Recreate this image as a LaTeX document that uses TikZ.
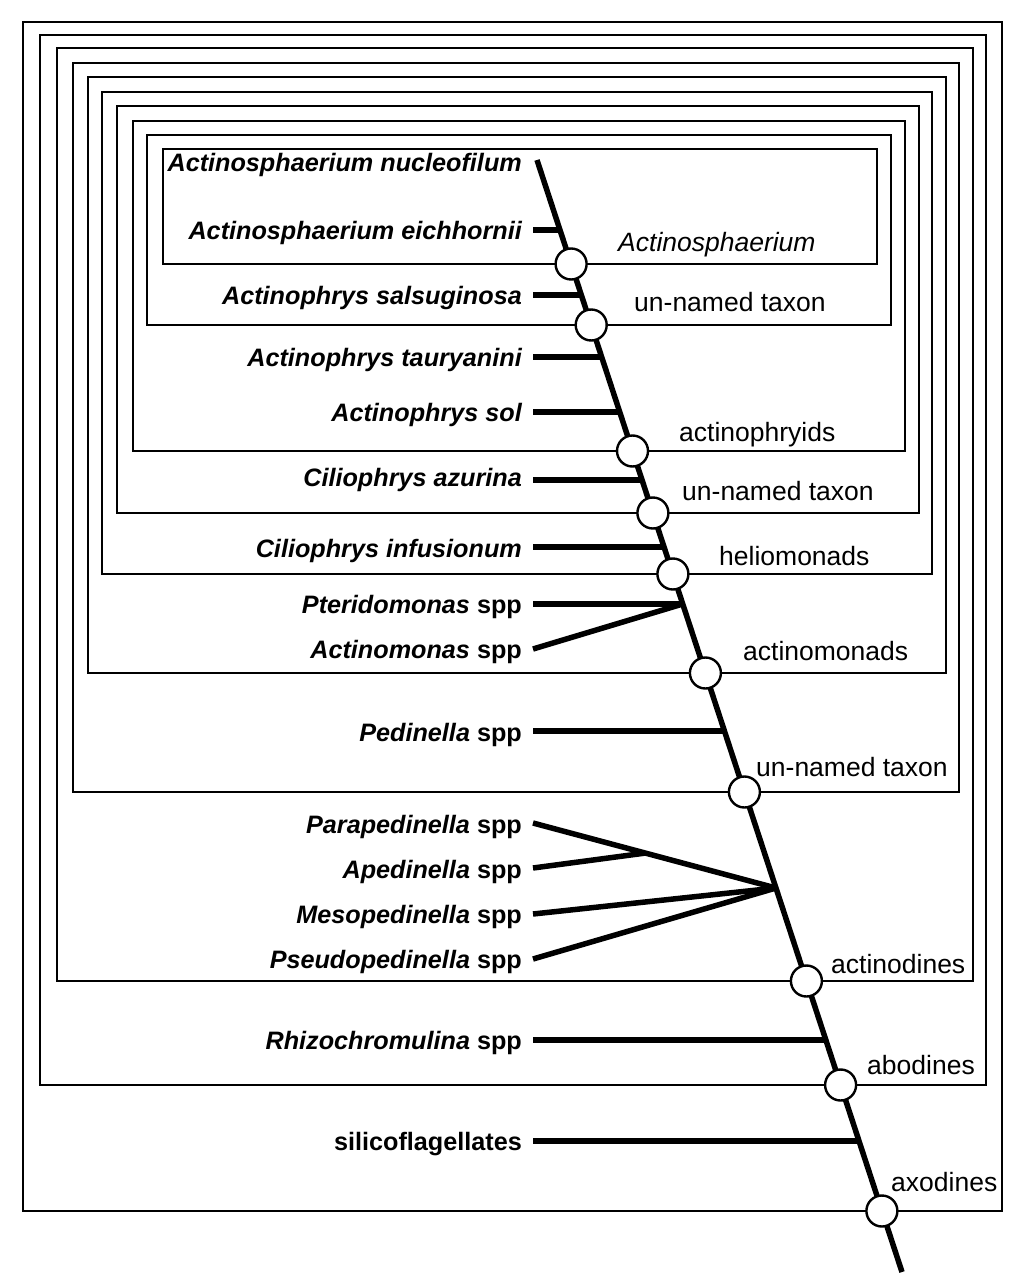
\documentclass[tikz,border=0pt]{standalone}
\usepackage{fontspec}
\setmainfont{Liberation Sans}
\begin{document}
\begin{tikzpicture}[x=1pt,y=-1pt,
  boxline/.style={line width=2.6pt},
  trunkline/.style={line width=5.5pt},
  branchline/.style={line width=5.5pt},
  cladenode/.style={circle, draw, line width=2.4pt, fill=white, minimum size=31pt, inner sep=0pt},
  taxon/.style={anchor=base east, inner sep=0pt, font=\fontsize{25.2}{30}\selectfont\bfseries},
  cladelabel/.style={anchor=base west, inner sep=0pt, font=\fontsize{26.5}{31}\selectfont}]
\useasboundingbox (0,0) rectangle (1029,1276);

% nested boxes
\draw[boxline] (23,22) rectangle (1002,1211);
\draw[boxline] (40,35) rectangle (986,1085);
\draw[boxline] (57,48) rectangle (973,981);
\draw[boxline] (73,63) rectangle (959,792);
\draw[boxline] (88,77) rectangle (946,673);
\draw[boxline] (102,92) rectangle (932,574);
\draw[boxline] (117,106) rectangle (919,513);
\draw[boxline] (133,121) rectangle (905,451);
\draw[boxline] (147,135) rectangle (891,325);
\draw[boxline] (163,149) rectangle (877,264);

% trunk
\coordinate (top) at (537,160);
\coordinate (bottom) at (902,1272);
\draw[trunkline] (top) -- (bottom);

% junctions on trunk
\coordinate (jeic) at (560.0,230);
\coordinate (jsal) at (581.3,295);
\coordinate (jtau) at (601.7,357);
\coordinate (jsol) at (619.7,412);
\coordinate (jazu) at (642.0,480);
\coordinate (jinf) at (664.0,547);
\coordinate (jpte) at (682.7,604);
\coordinate (jped) at (724.4,731);
\coordinate (jpp) at (775.9,888);
\coordinate (japed) at (645,853.1);
\coordinate (jrhi) at (825.8,1040);
\coordinate (jsil) at (859.0,1141);

% branch starts
\coordinate (seic) at (533,230);
\coordinate (ssal) at (533,295);
\coordinate (stau) at (533,357);
\coordinate (ssol) at (533,412);
\coordinate (sazu) at (533,480);
\coordinate (sinf) at (533,547);
\coordinate (spte) at (533,604);
\coordinate (sact) at (533,649);
\coordinate (sped) at (533,731);
\coordinate (spar) at (533,823);
\coordinate (sape) at (533,868);
\coordinate (smes) at (533,914);
\coordinate (spse) at (533,959);
\coordinate (srhi) at (533,1040);
\coordinate (ssil) at (533,1141);

\draw[branchline] (seic) -- (jeic);
\draw[branchline] (ssal) -- (jsal);
\draw[branchline] (stau) -- (jtau);
\draw[branchline] (ssol) -- (jsol);
\draw[branchline] (sazu) -- (jazu);
\draw[branchline] (sinf) -- (jinf);
\draw[branchline] (spte) -- (jpte);
\draw[branchline] (sact) -- (jpte);
\draw[branchline] (sped) -- (jped);
\draw[branchline] (spar) -- (jpp);
\draw[branchline] (sape) -- (japed);
\draw[branchline] (smes) -- (jpp);
\draw[branchline] (spse) -- (jpp);
\draw[branchline] (srhi) -- (jrhi);
\draw[branchline] (ssil) -- (jsil);

% taxa
\node[taxon] (tnuc) at (522,172) {\itshape Actinosphaerium nucleofilum};
\node[taxon] (teic) at (522,239) {\itshape Actinosphaerium eichhornii};
\node[taxon] (tsal) at (522,304) {\itshape Actinophrys salsuginosa};
\node[taxon] (ttau) at (522,366) {\itshape Actinophrys tauryanini};
\node[taxon] (tsol) at (522,421) {\itshape Actinophrys sol};
\node[taxon] (tazu) at (522,486) {\itshape Ciliophrys azurina};
\node[taxon] (tinf) at (522,557) {\itshape Ciliophrys infusionum};
\node[taxon] (tpte) at (522,613) {\textit{Pteridomonas} spp};
\node[taxon] (tact) at (522,658) {\textit{Actinomonas} spp};
\node[taxon] (tped) at (522,741) {\textit{Pedinella} spp};
\node[taxon] (tpar) at (522,833) {\textit{Parapedinella} spp};
\node[taxon] (tape) at (522,878) {\textit{Apedinella} spp};
\node[taxon] (tmes) at (522,923) {\textit{Mesopedinella} spp};
\node[taxon] (tpse) at (522,968) {\textit{Pseudopedinella} spp};
\node[taxon] (trhi) at (522,1049) {\textit{Rhizochromulina} spp};
\node[taxon] (tsil) at (522,1150) {silicoflagellates};

% clade circles
\node[cladenode] (c1) at (571.1,264) {};
\node[cladenode] (c2) at (591.2,325) {};
\node[cladenode] (c3) at (632.5,451) {};
\node[cladenode] (c4) at (652.9,513) {};
\node[cladenode] (c5) at (672.9,574) {};
\node[cladenode] (c6) at (705.4,673) {};
\node[cladenode] (c7) at (744.4,792) {};
\node[cladenode] (c8) at (806.4,981) {};
\node[cladenode] (c9) at (840.6,1085) {};
\node[cladenode] (c10) at (881.9,1211) {};

% clade labels
\node[cladelabel] (l1) at (618,251) {\itshape Actinosphaerium};
\node[cladelabel] (l2) at (634,311) {un-named taxon};
\node[cladelabel] (l3) at (679,441) {actinophryids};
\node[cladelabel] (l4) at (682,500) {un-named taxon};
\node[cladelabel] (l5) at (719,565) {heliomonads};
\node[cladelabel] (l6) at (743,660) {actinomonads};
\node[cladelabel] (l7) at (756,776) {un-named taxon};
\node[cladelabel] (l8) at (831,973) {actinodines};
\node[cladelabel] (l9) at (867,1074) {abodines};
\node[cladelabel] (l10) at (891,1191) {axodines};
\end{tikzpicture}
\end{document}
